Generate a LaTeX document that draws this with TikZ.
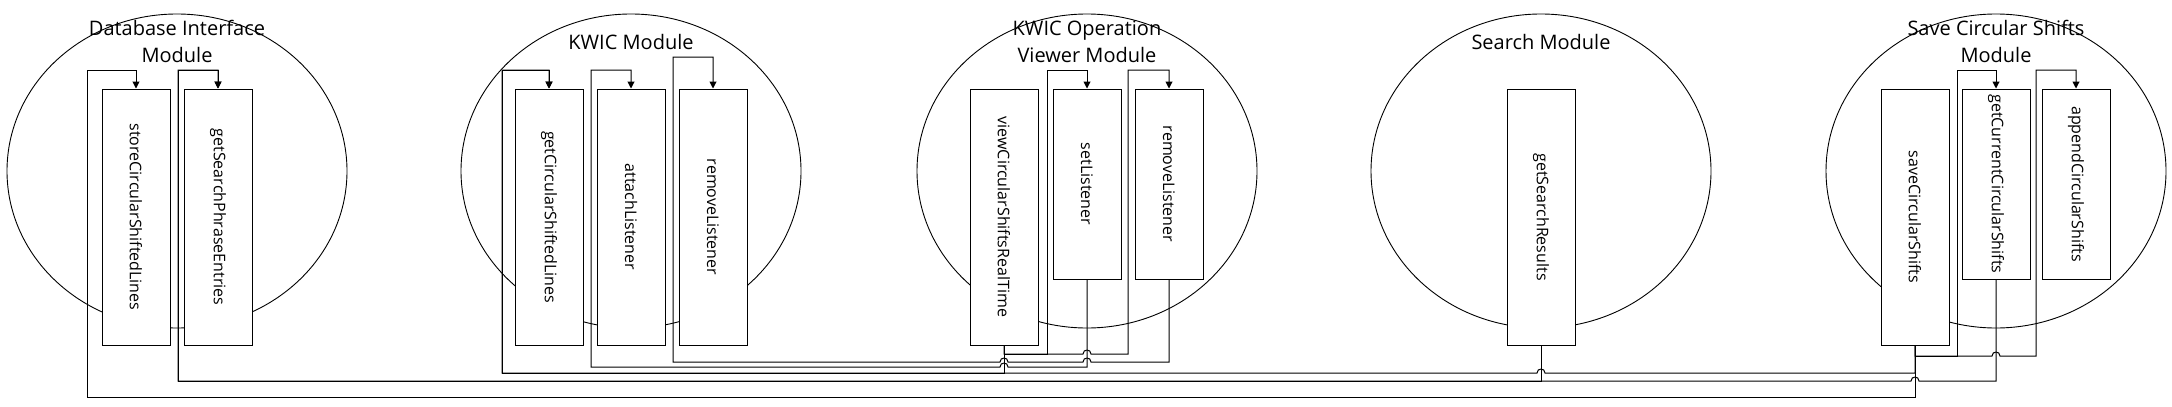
\documentclass[tikz,border=0pt]{standalone}
\usepackage{fontspec}
\setmainfont{Open Sans}
\usetikzlibrary{arrows.meta,shapes.geometric}
\begin{document}
\begin{tikzpicture}[x=1pt,y=-1pt,
  module/.style={draw,ellipse,minimum width=340pt,minimum height=314pt,inner sep=0pt,line width=0.9pt},
  modtitle/.style={align=center,font=\fontsize{20}{27}\selectfont,inner sep=0pt},
  fnbox/.style={draw,fill=white,minimum width=68pt,inner sep=0pt,line width=1pt},
  tallbox/.style={fnbox,minimum height=256pt},
  shortbox/.style={fnbox,minimum height=190pt},
  fnlabel/.style={rotate=-90,font=\fontsize{16}{19}\selectfont,inner sep=0pt},
  conn/.style={line width=1pt,-{Triangle[width=7pt,length=7pt]}},
]
\useasboundingbox (0,0) rectangle (2172,407);

% module ellipses
\node[module] (m1) at (177,171) {};
\node[module] (m2) at (631,171) {};
\node[module] (m3) at (1087,171) {};
\node[module] (m4) at (1541,171) {};
\node[module] (m5) at (1996,171) {};

% function boxes
\node[tallbox] (D1) at (136,217) {};
\node[tallbox] (D2) at (218,217) {};
\node[tallbox] (K1) at (549,217) {};
\node[tallbox] (K2) at (631,217) {};
\node[tallbox] (K3) at (713,217) {};
\node[tallbox] (V) at (1004,217) {};
\node[shortbox] (SL) at (1087,184) {};
\node[shortbox] (RL) at (1169,184) {};
\node[tallbox] (R) at (1541,217) {};
\node[tallbox] (S1) at (1915,217) {};
\node[shortbox] (G) at (1996,184) {};
\node[shortbox] (A) at (2076,184) {};

\node[fnlabel] (D1t) at (D1) {storeCircularShiftedLines};
\node[fnlabel] (D2t) at (D2) {getSearchPhraseEntries};
\node[fnlabel] (K1t) at (K1) {getCircularShiftedLines};
\node[fnlabel] (K2t) at (K2) {attachListener};
\node[fnlabel] (K3t) at (K3) {removeListener};
\node[fnlabel] (Vt) at (V) {viewCircularShiftsRealTime};
\node[fnlabel] (SLt) at (SL) {setListener};
\node[fnlabel] (RLt) at (RL) {removeListener};
\node[fnlabel] (Rt) at (R) {getSearchResults};
\node[fnlabel] (S1t) at (S1) {saveCircularShifts};
\node[fnlabel] (Gt) at (G) {getCurrentCircularShifts};
\node[fnlabel] (At) at (A) {appendCircularShifts};

% connectors
\draw[conn] (S1.south) -- (1915,397) -- (87,397) -- (87,70) -- (136,70) -- (D1.north);
\draw[conn] (R.south) -- (1541,381) -- (178,381) -- (178,70) -- (218,70) -- (D2.north);
\draw[conn] (G.south) -- (1996,381) -- (1919,381) .. controls (1919,375.7) and (1911,375.7) .. (1911,381) -- (178,381) -- (178,70) -- (218,70) -- (D2.north);
\draw[conn] (S1.south) -- (1915,373) -- (1545,373) .. controls (1545,367.7) and (1537,367.7) .. (1537,373) -- (502,373) -- (502,70) -- (549,70) -- (K1.north);
\draw[conn] (V.south) -- (1004,373) -- (502,373) -- (502,70) -- (549,70) -- (K1.north);
\draw[conn] (SL.south) -- (1087,367) -- (1008,367) .. controls (1008,361.7) and (1000,361.7) .. (1000,367) -- (591,367) -- (591,70) -- (631,70) -- (K2.north);
\draw[conn] (RL.south) -- (1169,362) -- (1091,362) .. controls (1091,356.7) and (1083,356.7) .. (1083,362) -- (1008,362) .. controls (1008,356.7) and (1000,356.7) .. (1000,362) -- (673,362) -- (673,57) -- (713,57) -- (K3.north);
\draw[conn] (V.south) -- (1004,354) -- (1047,354) -- (1047,70) -- (1087,70) -- (SL.north);
\draw[conn] (V.south) -- (1004,354) -- (1083,354) .. controls (1083,348.7) and (1091,348.7) .. (1091,354) -- (1128,354) -- (1128,70) -- (1169,70) -- (RL.north);
\draw[conn] (S1.south) -- (1915,356) -- (1957,356) -- (1957,70) -- (1996,70) -- (G.north);
\draw[conn] (S1.south) -- (1915,356) -- (1992,356) .. controls (1992,350.7) and (2000,350.7) .. (2000,356) -- (2036,356) -- (2036,70) -- (2076,70) -- (A.north);

% titles
\node[modtitle] (t1) at (177,41.5) {Database Interface\\Module};
\node[modtitle] (t2) at (631,42) {KWIC Module};
\node[modtitle] (t3) at (1087,41.5) {KWIC Operation\\Viewer Module};
\node[modtitle] (t4) at (1541,42) {Search Module};
\node[modtitle] (t5) at (1996,41.5) {Save Circular Shifts\\Module};
\end{tikzpicture}
\end{document}
